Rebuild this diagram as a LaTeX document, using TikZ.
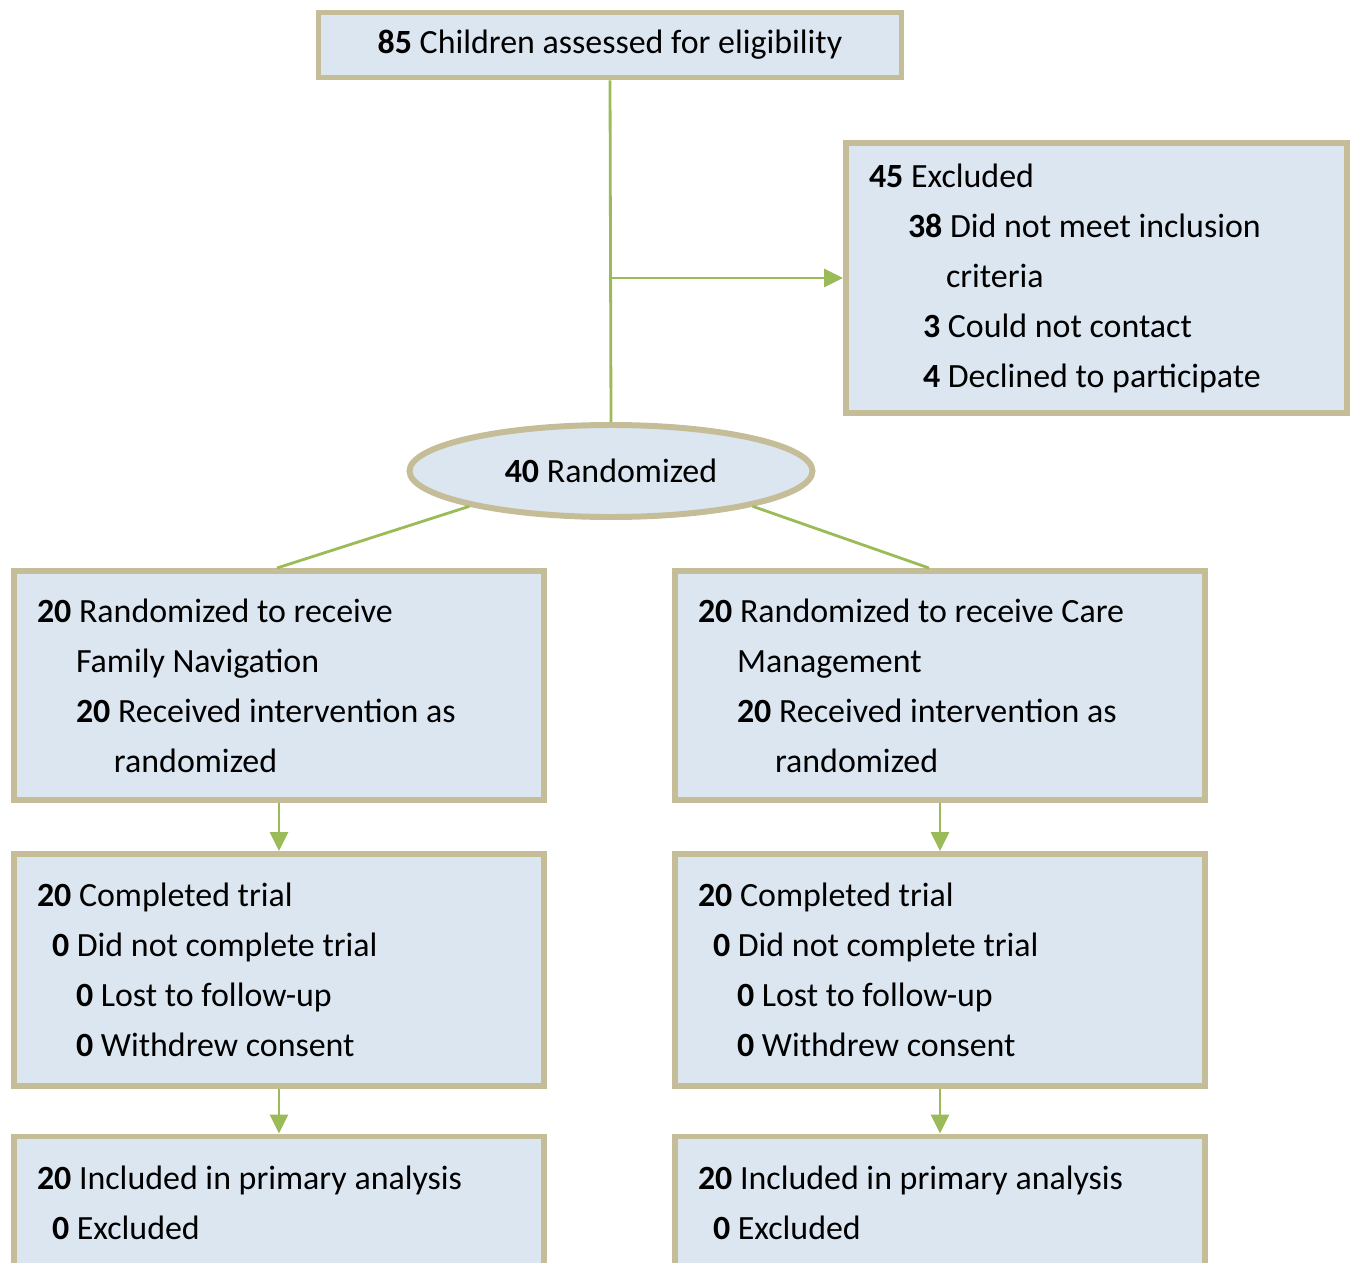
\documentclass[tikz,border=0pt]{standalone}
\usepackage{fontspec}
\setmainfont{Carlito}
\usepackage{xcolor}
\usepackage{tikz}
\usetikzlibrary{positioning, arrows.meta, shapes.geometric}

\definecolor{boxfill}{HTML}{DCE6F1}
\definecolor{boxline}{HTML}{C4BD97}
\definecolor{linkgreen}{HTML}{9BBB59}

\begin{document}
\begin{tikzpicture}[
    every node/.style={font=\fontsize{19.3}{28.45}\selectfont},
    box/.style={draw=boxline, line width=3.4pt, fill=boxfill, align=flush left, inner xsep=0.46cm, inner ysep=0pt},
    oval/.style={ellipse, draw=boxline, line width=3.4pt, fill=boxfill, inner sep=0pt, minimum width=8.06cm, minimum height=1.84cm},
    link/.style={draw=linkgreen, line width=1.6pt},
    arrow/.style={link, -{Triangle[length=0.38cm, width=0.36cm]}}
]
\useasboundingbox (0,0) rectangle (27.1,-25.26);

% top of the chart
\node[box, align=center, minimum width=11.66cm, minimum height=1.3cm] (assess) at (12.2,-0.9) {\textbf{85} Children assessed for eligibility};
\node[box, text width=9.1cm, minimum height=5.4cm] (excl) at (21.93,-5.56) {\textbf{45} Excluded\\
    \hspace{0.78cm}\textbf{38} Did not meet inclusion\\
    \hspace{1.54cm}criteria\\
    \hspace{1.08cm}\textbf{3} Could not contact\\
    \hspace{1.08cm}\textbf{4} Declined to participate\par\vspace{0.24cm}};
\node[oval] (rand) at (12.22,-9.42) {\textbf{40} Randomized};

% family navigation arm
\node[box, text width=9.68cm, minimum height=4.58cm] (fnA) at (5.58,-13.71) {\textbf{20} Randomized to receive\\
    \hspace{0.78cm}Family Navigation\\
    \hspace{0.78cm}\textbf{20} Received intervention as\\
    \hspace{1.54cm}randomized};
\node[box, text width=9.68cm, minimum height=4.64cm] (fnB) at (5.58,-19.4) {\textbf{20} Completed trial\\
    \hspace{0.3cm}\textbf{0} Did not complete trial\\
    \hspace{0.78cm}\textbf{0} Lost to follow-up\\
    \hspace{0.78cm}\textbf{0} Withdrew consent};
\node[box, text width=9.68cm, minimum height=2.66cm] (fnC) at (5.58,-24.06) {\textbf{20} Included in primary analysis\\
    \hspace{0.3cm}\textbf{0} Excluded};

% care management arm
\node[box, text width=9.68cm, minimum height=4.58cm] (cmA) at (18.8,-13.71) {\textbf{20} Randomized to receive Care\\
    \hspace{0.78cm}Management\\
    \hspace{0.78cm}\textbf{20} Received intervention as\\
    \hspace{1.54cm}randomized};
\node[box, text width=9.68cm, minimum height=4.64cm] (cmB) at (18.8,-19.4) {\textbf{20} Completed trial\\
    \hspace{0.3cm}\textbf{0} Did not complete trial\\
    \hspace{0.78cm}\textbf{0} Lost to follow-up\\
    \hspace{0.78cm}\textbf{0} Withdrew consent};
\node[box, text width=9.68cm, minimum height=2.66cm] (cmC) at (18.8,-24.06) {\textbf{20} Included in primary analysis\\
    \hspace{0.3cm}\textbf{0} Excluded};

% connectors
\coordinate (split) at (12.2,-5.56);
\draw[link] (assess.south) -- (rand.north);
\draw[arrow] (split) -- (excl.west);
\draw[link] (rand.194) -- ([xshift=-0.04cm]fnA.north);
\draw[link] (rand.346) -- ([xshift=-0.22cm]cmA.north);
\draw[arrow] (fnA.south) -- (fnB.north);
\draw[arrow] (fnB.south) -- (fnC.north);
\draw[arrow] (cmA.south) -- (cmB.north);
\draw[arrow] (cmB.south) -- (cmC.north);
\end{tikzpicture}
\end{document}
